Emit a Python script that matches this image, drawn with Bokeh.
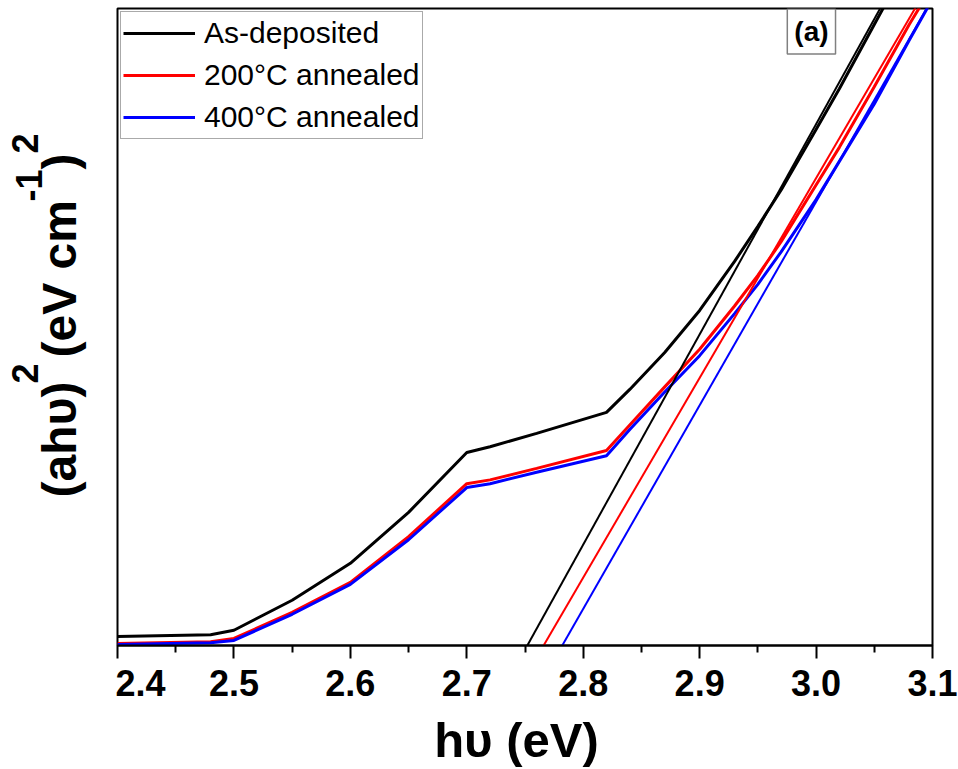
from bokeh.plotting import figure
from bokeh.models import Label, Range1d, FixedTicker, Legend, LegendItem
from bokeh.layouts import row, column
from bokeh.embed import file_html
from bokeh.resources import INLINE

# Photon energy (eV) and Tauc values (a.u.) for the three films
energy = [2.40, 2.48, 2.50, 2.55, 2.60, 2.65, 2.70, 2.72, 2.76, 2.82, 2.84, 2.87, 2.90,
          2.93, 2.95, 2.97, 3.00, 3.02, 3.05, 3.08, 3.10]
as_deposited = [1.4, 1.7, 2.4, 7.1, 12.9, 20.9, 30.3, 31.2, 33.3, 36.6, 40.2, 46.0, 52.6,
                60.3, 65.8, 71.5, 81.0, 87.4, 97.5, 107.5, 114.0]
annealed_200 = [0.3, 0.6, 1.1, 5.2, 9.9, 17.1, 25.4, 26.0, 27.8, 30.6, 34.6, 40.6, 46.5,
                53.3, 58.1, 63.4, 72.3, 78.2, 87.7, 97.5, 103.5]
annealed_400 = [0.15, 0.45, 0.8, 4.9, 9.6, 16.6, 24.8, 25.4, 27.2, 29.8, 33.9, 39.8, 45.5,
                52.1, 56.7, 61.8, 70.0, 76.0, 85.0, 95.0, 101.5]

# Linear fits: band-gap intercept (eV) and slope (a.u. per eV)
series_names = ["As-deposited", "200°C annealed", "400°C annealed"]
series_colors = ["#000000", "#ff0000", "#0000ff"]
fit_gap = [2.752, 2.766, 2.782]
fit_slope = [330.0, 313.5, 319.5]

x_ticks = [2.4, 2.5, 2.6, 2.7, 2.8, 2.9, 3.0, 3.1]
x_minor = [2.45, 2.55, 2.65, 2.75, 2.85, 2.95, 3.05]

FONT = "Liberation Sans"
TOP_H = 710
FRAME_TOP, FRAME_BOTTOM = 8, 645

# ---- main plot -------------------------------------------------------------
p = figure(width=843, height=TOP_H, output_backend="svg", toolbar_location=None,
           x_range=Range1d(2.4, 3.1), y_range=Range1d(0, 100),
           min_border_left=2, min_border_right=26, min_border_top=FRAME_TOP,
           min_border_bottom=TOP_H - FRAME_BOTTOM)
p.xgrid.visible = False
p.ygrid.visible = False
p.yaxis.visible = False
p.outline_line_color = "black"
p.outline_line_width = 2
p.background_fill_color = "white"
p.border_fill_color = "white"

ax = p.xaxis[0]
ax.ticker = FixedTicker(ticks=x_ticks, minor_ticks=x_minor)
ax.axis_line_width = 2
ax.major_tick_line_width = 2
ax.minor_tick_line_width = 2
ax.major_tick_in = 0
ax.major_tick_out = 13
ax.minor_tick_in = 0
ax.minor_tick_out = 7
ax.major_label_text_font = FONT
ax.major_label_text_font_style = "bold"
ax.major_label_text_font_size = "36px"
ax.major_label_text_color = "black"
ax.major_label_standoff = 11
ax.major_label_overrides = {t: f"{t:.1f}" for t in x_ticks}

# Tauc curves
r_black = p.line(energy, as_deposited, line_color=series_colors[0], line_width=3)
r_red = p.line(energy, annealed_200, line_color=series_colors[1], line_width=3)
r_blue = p.line(energy, annealed_400, line_color=series_colors[2], line_width=3)

# Extrapolated linear fits down to the energy axis
for gap, slope, color in zip(fit_gap, fit_slope, series_colors):
    x_end = gap + 110.0 / slope
    p.line([gap, x_end], [0, 110.0], line_color=color, line_width=2)

legend = Legend(items=[LegendItem(label=n, renderers=[r]) for n, r in
                       zip(series_names, [r_black, r_red, r_blue])],
                location="top_left")
legend.margin = 3
legend.padding = 2
legend.spacing = 4
legend.glyph_width = 72
legend.glyph_height = 38
legend.label_height = 38
legend.label_standoff = 9
legend.label_text_font = FONT
legend.label_text_font_size = "30px"
legend.label_text_color = "black"
legend.border_line_color = "#555555"
legend.border_line_width = 1
legend.background_fill_alpha = 1
p.add_layout(legend)

# Panel tag
p.add_layout(Label(x=2.996, y=96.4, text="(a)", text_align="center", text_baseline="middle",
                   text_font=FONT, text_font_style="bold", text_font_size="28px",
                   text_color="black",
                   border_line_color="#808080", border_line_width=1.5,
                   background_fill_color="white", padding=7))


def strip(w, h, y_range):
    f = figure(width=w, height=h, output_backend="svg", toolbar_location=None,
               x_range=Range1d(0, w), y_range=y_range, title=None,
               min_border=0, min_border_left=0, min_border_right=0,
               min_border_top=0, min_border_bottom=0)
    f.axis.visible = False
    f.grid.visible = False
    f.outline_line_color = None
    f.background_fill_color = "white"
    f.border_fill_color = "white"
    return f


# ---- vertical title strip: its frame lines up with the main frame, so the
# y range is given in page pixels measured from the top --------------------
yl = strip(115, TOP_H, Range1d(FRAME_BOTTOM, FRAME_TOP))
# (text, anchor x, start y, font size); exponents are raised and smaller
title_parts = [
    ("(ahυ)", 59, 497, "48px"),
    ("2", 24, 383, "36px"),
    ("(eV cm", 59, 357, "48px"),
    ("-1", 28, 201, "36px"),
    (")", 59, 169, "48px"),
    ("2", 24, 153, "36px"),
]
for txt, ax_x, start_y, fs in title_parts:
    yl.add_layout(Label(x=ax_x, y=start_y, text=txt, angle=1.5707963,
                        text_align="left", text_baseline="alphabetic", text_font=FONT,
                        text_font_style="bold", text_font_size=fs, text_color="black"))

# ---- horizontal title strip (y in pixels from the page bottom) -------------
xl = strip(958, 769 - TOP_H, Range1d(0, 769 - TOP_H))
xl.add_layout(Label(x=516, y=769 - 739, text="hυ (eV)", text_align="center",
                    text_baseline="alphabetic", text_font=FONT, text_font_style="bold",
                    text_font_size="49px", text_color="black"))

layout = column(row(yl, p, spacing=0), xl, spacing=0)
open("out.html", "w").write(file_html(layout, INLINE))
